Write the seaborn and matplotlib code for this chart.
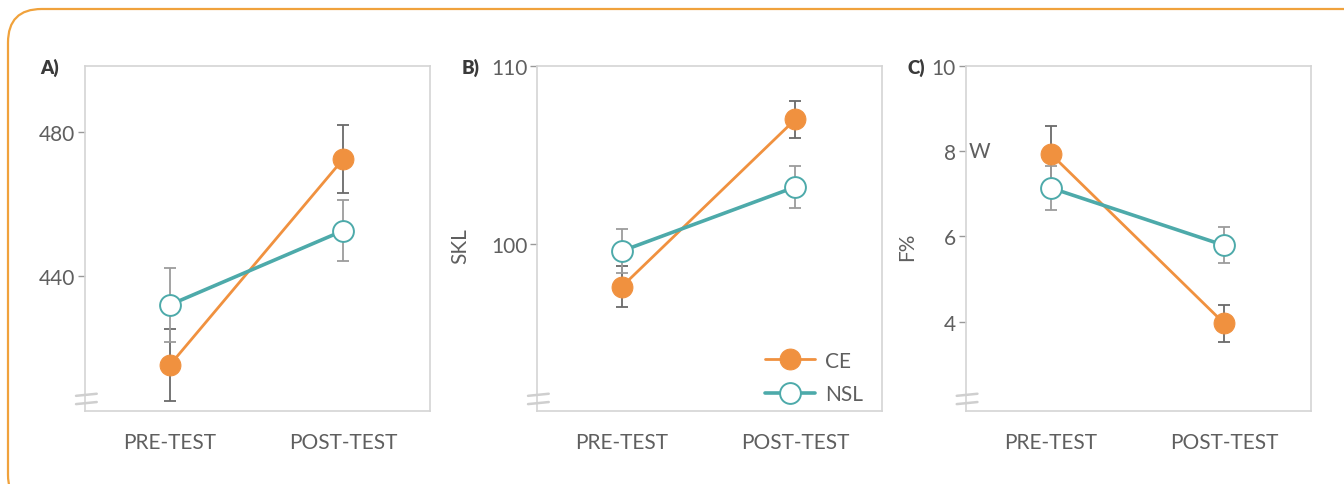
import matplotlib
matplotlib.use("Agg")
import matplotlib.pyplot as plt
import matplotlib.transforms as mtransforms
from matplotlib.patches import FancyBboxPatch
import seaborn as sns
import pandas as pd

ORANGE = "#F0913F"
TEAL = "#4DAAAA"
TEXT = "#5f5f5f"
FONT_SIZE = 15

times = ["PRE-TEST", "POST-TEST"]

# panel A
a_ce = [415.3, 472.5]
a_ce_err = [10.0, 9.5]
a_nsl = [432.0, 452.6]
a_nsl_err = [10.2, 8.5]

# panel B (SKL)
b_ce = [97.6, 107.0]
b_ce_err = [1.17, 1.06]
b_nsl = [99.6, 103.2]
b_nsl_err = [1.22, 1.2]

# panel C (F%)
c_ce = [7.94, 3.96]
c_ce_err = [0.66, 0.44]
c_nsl = [7.14, 5.79]
c_nsl_err = [0.51, 0.42]

panels = [
    ("A)", a_ce, a_ce_err, a_nsl, a_nsl_err, (402.5, 498.3), [440, 480], None),
    ("B)", b_ce, b_ce_err, b_nsl, b_nsl_err, (90.6, 110.0), [100, 110], "SKL"),
    ("C)", c_ce, c_ce_err, c_nsl, c_nsl_err, (1.9, 10.0), [4, 6, 8, 10], "F%"),
]

sns.set_style("white")
plt.rcParams["font.family"] = ["Lato", "DejaVu Sans"]

fig = plt.figure(figsize=(13.44, 4.85), dpi=100)

border = FancyBboxPatch(
    (8 / 1344, -0.05), 1.1, 1.0 - 10 / 485 + 0.05,
    boxstyle="round,pad=0,rounding_size=0.025",
    transform=fig.transFigure, fill=False, edgecolor="#F0A23C",
    linewidth=1.6, mutation_aspect=1344 / 485,
)
fig.patches.append(border)

lefts = [85 / 1344, 537 / 1344, 965.7 / 1344]
labx = [40 / 1344, 462 / 1344, 907 / 1344]
for i, (tag, ce, ce_err, nsl, nsl_err, ylim, yticks, ylab) in enumerate(panels):
    ax = fig.add_axes([lefts[i], 0.1505, 0.2567, 0.7113])
    df_ce = pd.DataFrame({"time": times, "value": ce})
    df_nsl = pd.DataFrame({"time": times, "value": nsl})

    ax.errorbar(times, ce, yerr=ce_err, fmt="none", ecolor="#6a6a6a",
                elinewidth=1.3, capsize=4, capthick=1.3, zorder=2)
    ax.errorbar(times, nsl, yerr=nsl_err, fmt="none", ecolor="#9c9c9c",
                elinewidth=1.3, capsize=4, capthick=1.3, zorder=2)
    sns.lineplot(data=df_ce, x="time", y="value", ax=ax, color=ORANGE,
                 marker="o", markersize=15, markeredgecolor=ORANGE,
                 linewidth=2.0, label="CE", zorder=3, sort=False)
    sns.lineplot(data=df_nsl, x="time", y="value", ax=ax, color=TEAL,
                 marker="o", markersize=15, markerfacecolor="white",
                 markeredgecolor=TEAL, markeredgewidth=1.4,
                 linewidth=2.6, label="NSL", zorder=4, sort=False)

    ax.set_xlim(-0.49, 1.5)
    ax.set_ylim(*ylim)
    ax.set_yticks(yticks)
    ax.set_xlabel("")
    ax.set_ylabel("")
    for s in ax.spines.values():
        s.set_color("#d4d4d4")
        s.set_linewidth(1.2)
    ax.tick_params(axis="x", length=0, pad=15, labelsize=FONT_SIZE, labelcolor=TEXT)
    ax.tick_params(axis="y", left=True, length=5, width=1, color="#999999",
                   pad=2, labelsize=FONT_SIZE, labelcolor=TEXT)

    if ylab:
        ax.set_ylabel(ylab, fontsize=FONT_SIZE, color=TEXT)
        ax.yaxis.set_label_coords(-0.194 if i == 1 else -0.141, 0.48)

    # axis break marks
    for y0 in (0.044, 0.020):
        ax.plot([-0.026, 0.034], [y0, y0 + 0.006], transform=ax.transAxes,
                color="#cfcfcf", linewidth=1.8, clip_on=False, zorder=5)

    fig.text(labx[i], 1 - 68 / 485, tag, fontsize=13.5, fontweight="heavy",
             color="#3a3a3a", va="center", ha="left")

    if i == 1:
        ax.legend(loc="lower right", bbox_to_anchor=(1.0, -0.035), frameon=False,
                  fontsize=FONT_SIZE, handlelength=2.4, handletextpad=0.5,
                  labelspacing=0.65, labelcolor=TEXT)
    else:
        ax.get_legend().remove()

    if i == 2:
        trans = mtransforms.blended_transform_factory(ax.transAxes, ax.transData)
        ax.text(0.008, 8, "W", transform=trans, ha="left", va="center",
                fontsize=FONT_SIZE, color=TEXT)

fig.savefig("out.png", dpi=100)
